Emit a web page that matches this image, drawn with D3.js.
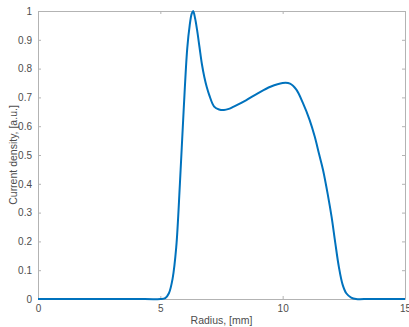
<!DOCTYPE html>
<html>
<head>
<meta charset="utf-8">
<script src="https://cdn.jsdelivr.net/npm/d3@7"></script>
<style>
  html, body { margin: 0; padding: 0; background: #fff; }
  svg { display: block; }
  text { font-family: "Liberation Sans", Arial, Helvetica, sans-serif; fill: #4d4d4d; }
</style>
</head>
<body>
<svg id="chart" width="409" height="327"></svg>
<script>
// Radial current density profile
const radius = [0, 1, 2, 3, 4, 5, 5.2, 5.35, 5.5, 5.65, 5.8, 5.95, 6.1, 6.2, 6.28, 6.34, 6.42, 6.5, 6.6, 6.7, 6.8, 6.9, 7.0, 7.2, 7.4, 7.6, 7.8, 8.0, 8.5, 9.0, 9.5, 10.0, 10.3, 10.56, 10.83, 11.1, 11.31, 11.48, 11.65, 11.85, 12.0, 12.15, 12.3, 12.45, 12.6, 12.8, 13.0, 13.5, 14, 15];
const density = [0, 0, 0, 0, 0, 0, 0.003, 0.02, 0.07, 0.18, 0.40, 0.65, 0.87, 0.95, 0.99, 1.0, 0.975, 0.935, 0.875, 0.815, 0.77, 0.735, 0.708, 0.668, 0.658, 0.656, 0.66, 0.668, 0.69, 0.715, 0.737, 0.75, 0.748, 0.727, 0.68, 0.622, 0.564, 0.506, 0.448, 0.36, 0.285, 0.195, 0.11, 0.05, 0.02, 0.005, 0, 0, 0, 0];

const xTicks = [0, 5, 10, 15];
const yTicks = [0, 0.1, 0.2, 0.3, 0.4, 0.5, 0.6, 0.7, 0.8, 0.9, 1];
const xLabel = "Radius, [mm]";
const yLabel = "Current density, [a.u.]";

const svg = d3.select("#chart");
const plotLeft = 38, plotRight = 405, plotTop = 11, plotBottom = 299;

const x = d3.scaleLinear().domain([0, 15]).range([plotLeft, plotRight]);
const y = d3.scaleLinear().domain([0, 1]).range([plotBottom, plotTop]);

const axisColor = "#b3b3b3";
const tickLen = 3;

function styleAxis(g) {
  g.select(".domain").attr("stroke", axisColor);
  g.selectAll(".tick line").attr("stroke", axisColor);
  g.selectAll(".tick text").attr("font-size", 10).attr("fill", "#4d4d4d");
}

// bottom axis (ticks inward)
svg.append("g")
  .attr("transform", `translate(0,${plotBottom})`)
  .call(d3.axisBottom(x).tickValues(xTicks).tickSize(-tickLen).tickSizeOuter(0).tickPadding(6).tickFormat(d3.format("d")))
  .call(styleAxis);

// top axis, ticks only
svg.append("g")
  .attr("transform", `translate(0,${plotTop})`)
  .call(d3.axisTop(x).tickValues(xTicks).tickSize(-tickLen).tickSizeOuter(0).tickFormat(""))
  .call(styleAxis);

// left axis
svg.append("g")
  .attr("transform", `translate(${plotLeft},0)`)
  .call(d3.axisLeft(y).tickValues(yTicks).tickSize(-tickLen).tickSizeOuter(0).tickPadding(6).tickFormat(d => d === 0 || d === 1 ? d3.format("d")(d) : d3.format(".1f")(d)))
  .call(styleAxis);

// right axis, ticks only
svg.append("g")
  .attr("transform", `translate(${plotRight},0)`)
  .call(d3.axisRight(y).tickValues(yTicks).tickSize(-tickLen).tickSizeOuter(0).tickFormat(""))
  .call(styleAxis);

// profile curve
const line = d3.line()
  .x((d, i) => x(radius[i]))
  .y((d, i) => y(Math.max(0, density[i])))
  .curve(d3.curveCatmullRom.alpha(0.5));

svg.append("path")
  .datum(density)
  .attr("d", line)
  .attr("fill", "none")
  .attr("stroke", "#0072BD")
  .attr("stroke-width", 2)
  .attr("stroke-linejoin", "round");

// axis titles
svg.append("text")
  .attr("x", (plotLeft + plotRight) / 2)
  .attr("y", 324)
  .attr("text-anchor", "middle")
  .attr("font-size", 10.5)
  .text(xLabel);

svg.append("text")
  .attr("transform", `translate(17,${(plotTop + plotBottom) / 2}) rotate(-90)`)
  .attr("text-anchor", "middle")
  .attr("font-size", 10.5)
  .text(yLabel);
</script>
</body>
</html>
